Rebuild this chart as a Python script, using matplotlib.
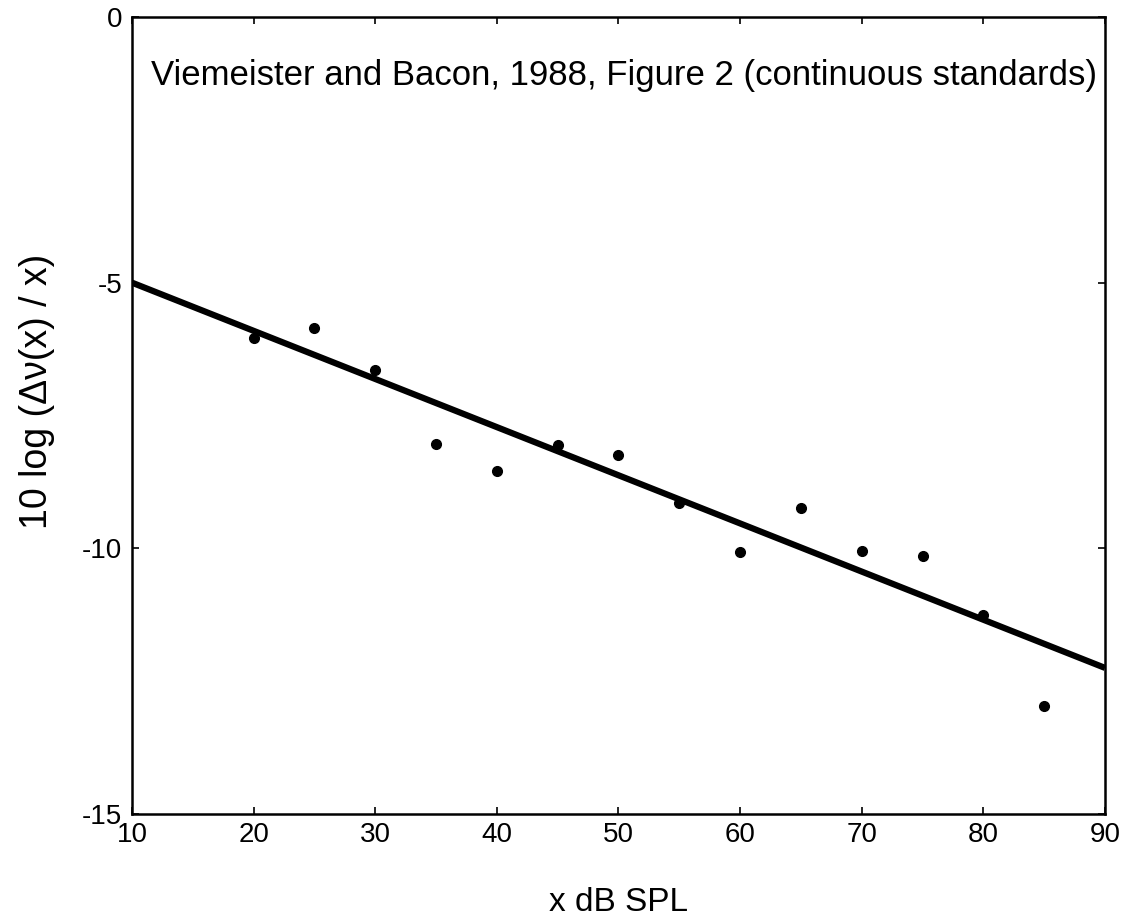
import numpy as np
import matplotlib.pyplot as plt

plt.rcParams['font.family'] = ['Liberation Sans', 'DejaVu Sans']

# measured points (level in dB SPL, 10 log relative variance)
level = [20, 25, 30, 35, 40, 45, 50, 55, 60, 65, 70, 75, 80, 85]
weber = [-6.04, -5.85, -6.64, -8.04, -8.54, -8.06, -8.24, -9.15,
         -10.07, -9.24, -10.05, -10.14, -11.26, -12.97]

# straight-line fit, end points
fit_x = [10, 90]
fit_y = [-5.0, -12.25]

fig = plt.figure(figsize=(11.28, 9.17), dpi=100)
ax = fig.add_axes([0.117, 0.1123, 0.8626, 0.8692])

ax.plot(fit_x, fit_y, color='black', lw=4.5, solid_capstyle='butt')
ax.plot(level, weber, 'o', color='black', ms=7)

ax.set_xlim(10, 90)
ax.set_ylim(-15, 0)
ax.set_xticks(range(10, 91, 10))
ax.set_yticks([-15, -10, -5, 0])
ax.set_yticklabels(['-15', '-10', '-5', '0'])
ax.tick_params(direction='in', top=True, right=True, length=5, width=1.2,
               labelsize=20)
ax.tick_params(axis='x', pad=6)
ax.tick_params(axis='y', pad=7)
for s in ax.spines.values():
    s.set_linewidth(1.8)

ax.text(0.506, 0.927, 'Viemeister and Bacon, 1988, Figure 2 (continuous standards)',
        transform=ax.transAxes, ha='center', va='center', fontsize=25)

ax.set_xlabel('x dB SPL', fontsize=24, labelpad=28)
ax.set_ylabel('10 log (\u0394\u03bd(x) / x)', fontsize=27)
ax.yaxis.set_label_coords(-0.079, 0.53)

fig.savefig('out.png', dpi=100)
